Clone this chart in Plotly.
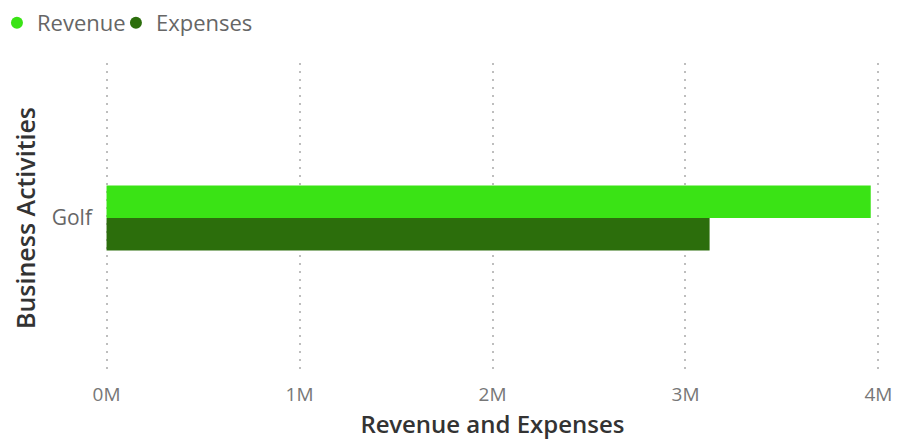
import plotly.graph_objects as go

categories = ["Golf"]
revenue = [3960000]
expenses = [3125000]
series_names = ["Revenue", "Expenses"]
series_colors = ["#3AE315", "#2C6E0C"]
tick_vals = [0, 1000000, 2000000, 3000000, 4000000]
tick_text = ["0M", "1M", "2M", "3M", "4M"]

FONT = "Segoe UI, Open Sans, sans-serif"
TITLE_FONT = "Open Sans SemiBold, Open Sans, sans-serif"

fig = go.Figure()
for name, vals, col in zip(series_names, [revenue, expenses], series_colors):
    fig.add_trace(go.Bar(y=categories, x=vals, name=name, orientation="h",
                         marker=dict(color=col, line=dict(width=0)),
                         showlegend=False, legendgroup=name))
# legend entries with circle symbols, one legend box per series
for name, col, leg in zip(series_names, series_colors, ["legend", "legend2"]):
    fig.add_trace(go.Scatter(x=[None], y=[None], mode="markers", name=name,
                             marker=dict(symbol="circle", size=15, color=col),
                             legendgroup=name, showlegend=True, legend=leg))

legend_style = dict(orientation="h", yanchor="top", xanchor="left", y=1.197,
                    font=dict(size=22, color="#666666"), itemsizing="constant",
                    itemwidth=30, bgcolor="rgba(0,0,0,0)")

# the page body adds an 8px margin, so the figure is sized to the visible area
fig.update_layout(
    width=885, height=433,
    margin=dict(l=97, r=13, t=55, b=68, autoexpand=False),
    paper_bgcolor="white", plot_bgcolor="white",
    barmode="group", bargap=0.79, bargroupgap=0,
    font=dict(family=FONT, color="#666666"),
    legend=dict(x=-0.1394, **legend_style),
    legend2=dict(x=0.0141, **legend_style),
    xaxis=dict(range=[-8000, 4008000], tickvals=tick_vals, ticktext=tick_text,
               showgrid=True, gridcolor="#BEBEBE", griddash="2px,6px", gridwidth=1.5,
               zeroline=False, showline=False, ticks="", automargin=False,
               ticklabelstandoff=8, ticklabeloverflow="allow",
               tickfont=dict(size=19, color="#777777"),
               title=dict(text="Revenue and Expenses", standoff=8,
                          font=dict(size=24, color="#333333", family=TITLE_FONT))),
    yaxis=dict(autorange="reversed", showgrid=False, zeroline=False, showline=False,
               ticks="", automargin=False, ticklabelstandoff=12,
               tickfont=dict(size=21, color="#666666"),
               title=dict(text="Business Activities", standoff=16,
                          font=dict(size=25, color="#333333", family=TITLE_FONT))),
)

fig.write_html("out.html")
